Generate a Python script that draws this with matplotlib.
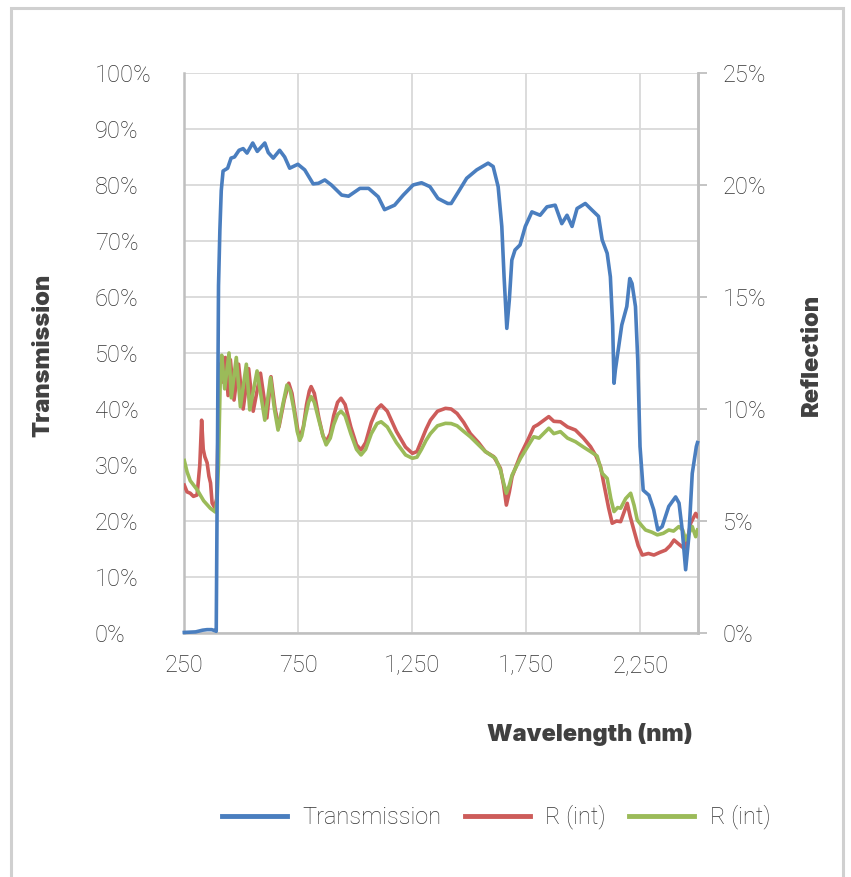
import matplotlib
matplotlib.use("Agg")
import matplotlib.pyplot as plt
from matplotlib.patches import Rectangle
from matplotlib.lines import Line2D
from matplotlib.ticker import FuncFormatter
from matplotlib import font_manager

# ---------------- data ----------------
trans_nm = [250, 300, 330, 350, 370, 385, 390, 395, 400, 406, 412, 420, 440, 455, 470, 490,
            508, 525, 550, 570, 603, 618, 640, 668, 690, 712, 748, 778, 815, 838, 866, 895,
            940, 970, 1020, 1058, 1100, 1128, 1172, 1210, 1253, 1290, 1327, 1362, 1405, 1420,
            1452, 1488, 1532, 1582, 1604, 1626, 1642, 1652, 1664, 1675, 1686, 1700, 1722,
            1745, 1774, 1810, 1840, 1876, 1905, 1928, 1950, 1972, 2008, 2038, 2066, 2082,
            2104, 2118, 2128, 2134, 2140, 2168, 2190, 2203, 2213, 2228, 2238, 2248, 2262,
            2287, 2308, 2326, 2345, 2374, 2404, 2419, 2433, 2448, 2462, 2477, 2495, 2500]
trans_pct = [0.1, 0.2, 0.5, 0.6, 0.6, 0.4, 0.3, 30, 62, 72, 79, 82.5, 83, 84.8, 85, 86.2,
             86.5, 85.7, 87.5, 86, 87.5, 85.8, 84.8, 86.2, 85, 83, 83.7, 82.7, 80.2, 80.3, 80.9, 80,
             78.2, 78, 79.4, 79.4, 77.9, 75.6, 76.4, 78.2, 80, 80.4, 79.7, 77.6, 76.7, 76.7,
             78.8, 81.2, 82.7, 83.9, 83.3, 79.7, 72.6, 63.6, 54.4, 59.5, 66.6, 68.4, 69.3,
             72.6, 75.2, 74.6, 76.1, 76.4, 73.1, 74.6, 72.6, 75.8, 76.7, 75.5, 74.4, 70.2,
             67.8, 63.6, 55, 44.6, 47, 55, 58.3, 63.3, 62.4, 58.3, 48.8, 33.3, 25.5,
             24.6, 22, 18.4, 19, 22.6, 24.3, 23.2, 18.4, 11.3, 17.2, 28.5, 33.3, 34]

r1_nm = [250, 262, 276, 290, 306, 318, 326, 333, 340, 350, 358, 365, 372, 383, 392, 398, 405,
         418, 430, 442, 452, 468, 488, 508, 532, 552, 584, 612, 630, 648, 665, 688, 708,
         722, 737, 750, 758, 772, 786, 798, 806, 820, 840, 858, 872, 890, 905, 922, 937,
         955, 980, 1005, 1025, 1045, 1070, 1095, 1113, 1140, 1180, 1220, 1250, 1270, 1290,
         1310, 1329, 1360, 1395, 1420, 1446, 1475, 1504, 1540, 1570, 1607, 1636, 1650, 1662,
         1675, 1687, 1724, 1760, 1782, 1800, 1848, 1870, 1899, 1930, 1965, 2000, 2031, 2055,
         2075, 2089, 2110, 2126, 2145, 2163, 2192, 2205, 2221, 2240, 2258, 2285, 2309, 2335,
         2360, 2380, 2397, 2420, 2441, 2455, 2470, 2492, 2500]
r1_pct = [6.6, 6.3, 6.24, 6.1, 6.16, 7.5, 9.5, 8.2, 7.87, 7.6, 7.0, 6.7, 5.8, 5.6, 6.0, 9.0, 12.0,
          11.2, 12.3, 10.6, 12.2, 10.4, 12.0, 10.0, 11.8, 9.9, 11.6, 9.6, 11.44, 10.0, 9.2, 10.4, 11.15,
          10.7, 9.7, 8.9, 8.76, 9.2, 10.2, 10.8, 11.0, 10.7, 9.6, 8.8, 8.54, 8.9, 9.7, 10.3, 10.48,
          10.2, 9.2, 8.4, 8.17, 8.5, 9.4, 10.0, 10.18, 9.9, 9.0, 8.3, 8.02, 8.1, 8.6,
          9.1, 9.5, 9.9, 10.03, 10.0, 9.8, 9.4, 8.9, 8.5, 8.1, 7.87, 7.35, 6.6, 5.71,
          6.3, 6.98, 7.95, 8.7, 9.2, 9.3, 9.66, 9.45, 9.43, 9.2, 9.06, 8.7, 8.32, 7.9,
          7.42, 6.68, 5.6, 4.9, 5.0, 4.97, 5.79, 5.2, 4.6, 3.9, 3.48, 3.55, 3.48, 3.6,
          3.7, 3.9, 4.15, 3.95, 3.78, 4.1, 4.9, 5.34, 5.2]

r2_nm = [250, 262, 276, 306, 335, 364, 386, 394, 400, 408, 414, 427, 446, 456, 478, 496, 522,
         537, 569, 603, 628, 645, 661, 682, 700, 715, 730, 745, 756, 765, 780, 795, 806, 820,
         840, 858, 872, 890, 905, 922, 937, 955, 980, 1005, 1025, 1045, 1070, 1095, 1113, 1140,
         1180, 1220, 1250, 1270, 1290, 1310, 1329, 1360, 1395, 1420, 1446, 1475, 1504, 1540,
         1570, 1614, 1636, 1650, 1662, 1675, 1687, 1724, 1760, 1782, 1805, 1848, 1870, 1899,
         1930, 1965, 2000, 2031, 2060, 2082, 2104, 2120, 2134, 2150, 2163, 2185, 2207, 2222,
         2236, 2255, 2272, 2300, 2324, 2350, 2374, 2395, 2418, 2435, 2448, 2465, 2477, 2492, 2500]
r2_pct = [7.7, 7.2, 6.8, 6.4, 5.9, 5.57, 5.4, 6.0, 7.6, 11.5, 12.4, 10.9, 12.5, 10.5, 12.3, 10.1, 12.0,
          9.96, 11.7, 9.5, 11.4, 10.0, 9.06, 10.2, 11.07, 10.8, 10.0, 9.0, 8.6, 8.8, 9.6, 10.3, 10.55, 10.3,
          9.5, 8.8, 8.4, 8.7, 9.3, 9.75, 9.9, 9.7, 8.9, 8.2, 7.95, 8.2, 8.9, 9.35, 9.43, 9.2,
          8.5, 7.95, 7.8, 7.85, 8.2, 8.6, 8.9, 9.25, 9.36, 9.35, 9.25, 9.0, 8.76, 8.4,
          8.1, 7.8, 7.28, 6.7, 6.24, 6.6, 7.05, 7.8, 8.4, 8.76, 8.7, 9.14, 8.9, 8.99,
          8.7, 8.54, 8.3, 8.1, 7.9, 7.13, 6.9, 6.0, 5.42, 5.6, 5.57, 6.0, 6.24, 5.7,
          5.04, 4.8, 4.6, 4.5, 4.38, 4.45, 4.6, 4.55, 4.75, 4.6, 4.15, 4.5, 4.75, 4.3, 4.6]

x_ticks = [250, 750, 1250, 1750, 2250]
left_ticks = [0, 10, 20, 30, 40, 50, 60, 70, 80, 90, 100]
right_ticks = [0, 5, 10, 15, 20, 25]
series_names = ["Transmission", "R (int)", "R (int)"]

# ---------------- style ----------------
W, H = 851, 877
FONT = "Roboto"
TICK_WEIGHT = "light"
TICK_COLOR = "#333333"
TITLE_COLOR = "#404040"
SPINE = "#bfbfbf"
GRID = "#d9d9d9"
C_BLUE = "#4a7ebf"
C_RED = "#cd5c5a"
C_GREEN = "#9bbb59"
FS = 17

# pick heaviest available font for the axis titles
heavy = [(f.name, f.weight) for f in font_manager.fontManager.ttflist
         if f.name in ("Roboto", "Lato", "Open Sans", "Inter", "Noto Sans")]
TITLE_FAMILY, TITLE_WEIGHT = "Roboto", "bold"
best = 0
for nm, wt in heavy:
    w = wt if isinstance(wt, int) else {"bold": 700, "black": 900, "heavy": 800}.get(wt, 400)
    if w > best:
        best, TITLE_FAMILY, TITLE_WEIGHT = w, nm, w

fig = plt.figure(figsize=(W / 100, H / 100), dpi=100)
fig.patch.set_facecolor("white")

L, R, T, B = 184.3, 697.5, 73, 633
rect = [L / W, 1 - B / H, (R - L) / W, (B - T) / H]

ax = fig.add_axes(rect)
ax.set_xlim(250, 2500)
ax.set_ylim(0, 100)
ax.set_xticks(x_ticks)
ax.set_yticks(left_ticks)
ax.grid(True, color=GRID, lw=1.3)
ax.set_axisbelow(True)
ax.yaxis.set_major_formatter(FuncFormatter(lambda v, p: f"{v:.0f}%"))
ax.xaxis.set_major_formatter(FuncFormatter(lambda v, p: f"{v:,.0f}"))
ax.tick_params(axis="y", length=0, pad=(L - 95) * 0.72, labelsize=FS, labelcolor=TICK_COLOR)
ax.tick_params(axis="x", length=0, pad=15, labelsize=FS, labelcolor=TICK_COLOR)
for lab in ax.get_yticklabels():
    lab.set_horizontalalignment("left")
    lab.set_fontfamily(FONT)
    lab.set_fontweight(TICK_WEIGHT)
for lab in ax.get_xticklabels():
    lab.set_fontfamily(FONT)
    lab.set_fontweight(TICK_WEIGHT)
for s in ["left", "bottom", "right"]:
    ax.spines[s].set_color(SPINE)
    ax.spines[s].set_linewidth(1.8)
ax.spines["top"].set_visible(False)

ax2 = ax.twinx()
ax2.set_ylim(0, 25)
ax2.set_yticks(right_ticks)
ax2.yaxis.set_major_formatter(FuncFormatter(lambda v, p: f"{v:.0f}%"))
ax2.tick_params(axis="y", length=6.5, width=1.3, color=SPINE, pad=11.5,
                labelsize=FS, labelcolor=TICK_COLOR)
for lab in ax2.get_yticklabels():
    lab.set_fontfamily(FONT)
    lab.set_fontweight(TICK_WEIGHT)
for s in ["left", "bottom", "top"]:
    ax2.spines[s].set_visible(False)
ax2.spines["right"].set_color(SPINE)
ax2.spines["right"].set_linewidth(1.8)

ax2.plot(r1_nm, r1_pct, color=C_RED, lw=2.6, solid_joinstyle="round", zorder=3)
ax2.plot(r2_nm, r2_pct, color=C_GREEN, lw=2.6, solid_joinstyle="round", zorder=4)

ax3 = ax.twinx()
ax3.set_ylim(0, 100)
ax3.set_xlim(250, 2500)
ax3.axis("off")
ax3.plot(trans_nm, trans_pct, color=C_BLUE, lw=2.6, solid_joinstyle="round", clip_on=False)

# axis titles
tkw = dict(fontsize=FS, fontweight=TITLE_WEIGHT, family=TITLE_FAMILY, color=TITLE_COLOR)
fig.text(43 / W, 1 - 355 / H, "Transmission", rotation=90, ha="center", va="center", **tkw)
fig.text(812 / W, 1 - 355 / H, "Reflection", rotation=90, ha="center", va="center", **tkw)
fig.text(693 / W, 1 - 735 / H, "Wavelength (nm)", ha="right", va="center", **tkw)

# legend
handles = [Line2D([], [], color=c, lw=3.5) for c in (C_BLUE, C_RED, C_GREEN)]
leg = fig.legend(handles, series_names, loc="center", bbox_to_anchor=(496 / W, 1 - 817 / H),
                 ncol=3, frameon=False, handlelength=2.75, handletextpad=0.65,
                 columnspacing=1.0, prop={"family": FONT, "size": FS, "weight": TICK_WEIGHT})
for t in leg.get_texts():
    t.set_color(TICK_COLOR)

# outer border
fig.patches.append(Rectangle((11 / W, -0.05), (843 - 11) / W, 1.05 - 8 / H,
                             transform=fig.transFigure, fill=False,
                             edgecolor="#d0d0d0", lw=2.2))

fig.savefig("out.png", dpi=100)
